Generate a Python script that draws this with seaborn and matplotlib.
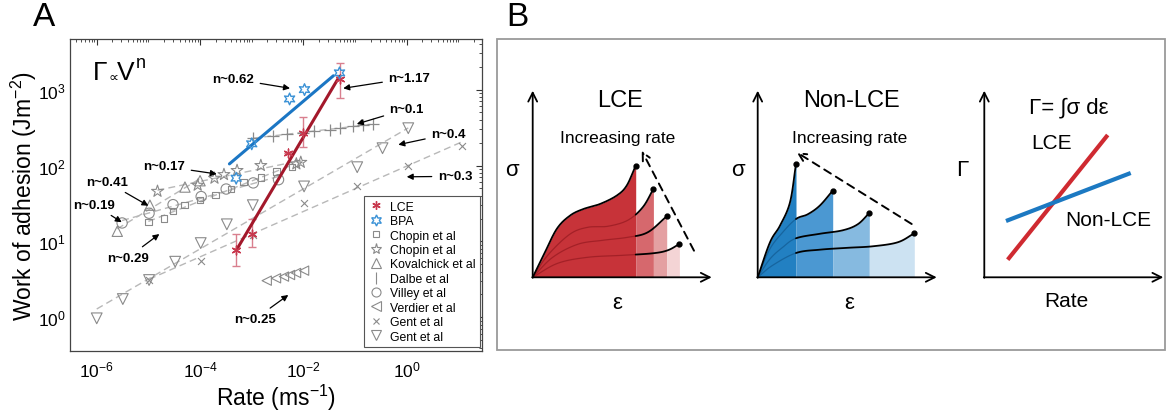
import numpy as np
import matplotlib
matplotlib.use("Agg")
import matplotlib.pyplot as plt
from matplotlib.lines import Line2D
from matplotlib.patches import Rectangle
from matplotlib.ticker import LogLocator, NullFormatter
import seaborn as sns

# ---------------- Panel A data ----------------
lce_rate = [5e-4, 1e-3, 5e-3, 1e-2, 5e-2]
lce_work = [7.6, 12.5, 145, 272, 1380]
lce_err_lo = [2.8, 4.1, 0, 98, 610]
lce_err_hi = [4.9, 7.2, 0, 158, 860]
lce_fit_rate = [5e-4, 5e-2]
lce_fit_work = [7.6, 1500]

bpa_rate = [5e-4, 1e-3, 5.4e-3, 1.05e-2, 5e-2]
bpa_work = [68, 193, 753, 1000, 1660]
bpa_fit_rate = [3.7e-4, 3.8e-2]
bpa_fit_work = [105, 1520]

chopin_sq_rate = [1e-5, 2e-5, 3e-5, 5e-5, 1e-4, 2e-4, 4e-4, 7e-4, 1.5e-3, 3e-3, 6e-3]
chopin_sq_work = [18, 20, 25, 30, 35, 41, 49, 61, 70, 83, 95]
chopin_st_rate = [1.5e-5, 9e-5, 1.9e-4, 2.9e-4, 5.2e-4, 1.5e-3, 7.3e-3, 8.9e-3]
chopin_st_work = [45.7, 55, 68, 76, 86, 100, 105, 110]
kova_rate = [2.5e-6, 1.07e-5, 5.1e-5, 1e-4]
kova_work = [13.6, 30, 52, 63]
dalbe_rate = [1.07e-3, 2.6e-3, 4.9e-3, 1e-2, 1.6e-2, 3.3e-2, 5.1e-2, 9.3e-2, 0.145, 0.22]
dalbe_work = [229, 247, 260, 272, 287, 296, 310, 330, 340, 350]
villey_rate = [3.1e-6, 1.03e-5, 3e-5, 1.05e-4, 3.2e-4, 1.07e-3, 3.3e-3]
villey_work = [17.5, 23.5, 30.5, 39, 49, 59, 65]
verdier_rate = [1.95e-3, 2.95e-3, 4.2e-3, 5.5e-3, 7.2e-3, 1.03e-2]
verdier_work = [3.04, 3.27, 3.44, 3.61, 3.84, 4.12]
gent_x_rate = [1.03e-5, 1.03e-4, 1.07e-3, 1.03e-2, 0.11, 1.07, 11.6]
gent_x_work = [3.13, 5.58, 12.2, 32, 54, 100, 180]
gent_v_rate = [1e-6, 3.2e-6, 1.03e-5, 3.3e-5, 1.03e-4, 3.3e-4, 1.05e-3, 1.03e-2, 0.11, 0.34, 1.07]
gent_v_work = [0.97, 1.74, 3.1, 5.4, 9.5, 16.8, 30, 53, 95, 169, 310]

legend_labels = ["LCE", "BPA", "Chopin et al", "Chopin et al", "Kovalchick et al",
                 "Dalbe et al", "Villey et al", "Verdier et al", "Gent et al", "Gent et al"]

# annotation: label, text (x, y), arrow tip (x, y)
ann_labels = ["n~0.62", "n~1.17", "n~0.1", "n~0.4", "n~0.3", "n~0.17",
              "n~0.41", "n~0.19", "n~0.29", "n~0.25"]
ann_text_x = [4.4e-4, 1.12, 1.0, 6.4, 8.6, 2.03e-5, 1.56e-6, 9e-7, 4e-6, 1.16e-3]
ann_text_y = [1380, 1420, 555, 260, 72, 97.6, 61, 30.5, 6.1, 0.95]
ann_tip_x = [5.5e-3, 5.9e-2, 0.108, 0.687, 1.0, 2.1e-4, 1e-5, 3.05e-6, 1.63e-5, 5.1e-3]
ann_tip_y = [1040, 1040, 352, 188, 71, 77.3, 29.5, 17.9, 12.5, 1.97]

# ---------------- Panel B schematic data (local units) ----------------
lce_curves = [
    [(0, 0), (10.7, 21.7), (24, 48.3), (37.3, 61.7), (50.7, 68.3), (67.3, 73.3), (84, 81.7), (94, 91.7), (103, 111.7)],
    [(0, 0), (15, 22), (37, 43), (55, 50), (75, 51), (95, 57), (110, 70), (120.7, 88.3)],
    [(0, 0), (20, 20), (45, 33), (70, 37), (95, 40), (115, 45), (134, 61)],
    [(0, 0), (25, 14), (55, 20), (90, 22), (120, 24), (135, 27), (146.7, 33.3)],
]
nonlce_curves = [
    [(0, 0), (12.3, 35), (22.3, 51.7), (32.3, 75), (38.3, 113.3)],
    [(0, 0), (12, 28), (25, 45), (38.3, 58.3), (50, 63), (62, 71.6), (75, 86.6)],
    [(0, 0), (12, 18), (25, 30), (38.3, 39), (62, 43.5), (85, 47), (100, 53), (111.6, 64.3)],
    [(0, 0), (15, 12), (38.3, 24.3), (62, 27.6), (90, 29.5), (115, 31), (140, 35), (156.6, 44)],
]
lce_rate_arrow = [(161.3, 26.6), (109, 126.6)]
nonlce_rate_arrow = [(154, 53.3), (39, 125)]
gamma_lce_line = [(23.4, 17.6), (123.4, 142.3)]
gamma_non_line = [(21.7, 56.3), (146.4, 104.3)]

red_fills = ["#c73339", "#d6686d", "#e4a0a2", "#f4d4d5"]
blue_fills = ["#2280c2", "#4b98d2", "#86bae0", "#cce2f2"]

# ---------------- style ----------------
sns.set_theme(style="white")
plt.rcParams["font.family"] = ["Liberation Sans", "DejaVu Sans"]
plt.rcParams["mathtext.fontset"] = "custom"
plt.rcParams["mathtext.rm"] = "Liberation Sans"
plt.rcParams["mathtext.it"] = "Liberation Sans:italic"
plt.rcParams["mathtext.bf"] = "Liberation Sans:bold"
for key in ["text.color", "axes.labelcolor", "xtick.color", "ytick.color"]:
    plt.rcParams[key] = "black"

W, H = 1167, 414
fig = plt.figure(figsize=(W / 100, H / 100), dpi=100)
fig.patch.set_facecolor("white")

GRAY = "#8a8a8a"
FITC = "#b8b8b8"
RED_M = "#c8384e"
RED_L = "#a3182b"
RED_E = "#d97f8e"
BLUE = "#3b92d6"
BLUE_L = "#1b76c4"

ax = fig.add_axes([70 / W, 1 - 352 / H, 412 / W, 312 / H])
ax.set_xscale("log")
ax.set_yscale("log")


def fitline(xs, ys):
    lx, ly = np.log10(xs), np.log10(ys)
    p = np.polyfit(lx, ly, 1)
    xe = np.array([lx.min(), lx.max()])
    return 10 ** xe, 10 ** np.polyval(p, xe)


for xs, ys in [(chopin_sq_rate, chopin_sq_work), (chopin_st_rate, chopin_st_work),
               (kova_rate, kova_work), (dalbe_rate, dalbe_work), (villey_rate, villey_work),
               (gent_x_rate, gent_x_work), (gent_v_rate, gent_v_work)]:
    fx, fy = fitline(xs, ys)
    sns.lineplot(x=fx, y=fy, ax=ax, color=FITC, lw=1.0, linestyle=(0, (5, 3)), zorder=2)

hollow = [(chopin_sq_rate, chopin_sq_work, "s", 22), (chopin_st_rate, chopin_st_work, "*", 80),
          (kova_rate, kova_work, "^", 55), (villey_rate, villey_work, "o", 55),
          (verdier_rate, verdier_work, "<", 45), (gent_v_rate, gent_v_work, "v", 60)]
for xs, ys, m, s in hollow:
    sns.scatterplot(x=xs, y=ys, ax=ax, marker=m, s=s, facecolor="none",
                    edgecolor=GRAY, linewidth=0.8, zorder=3)
sns.scatterplot(x=dalbe_rate, y=dalbe_work, ax=ax, marker="+", s=70, color=GRAY, linewidth=0.9, zorder=3)
sns.scatterplot(x=gent_x_rate, y=gent_x_work, ax=ax, marker="x", s=25, color=GRAY, linewidth=0.8, zorder=3)

# LCE and BPA
ax.errorbar(lce_rate, lce_work, yerr=[lce_err_lo, lce_err_hi], fmt="none", ecolor=RED_E,
            elinewidth=1.0, capsize=3, capthick=1.0, zorder=4)
sns.lineplot(x=lce_fit_rate, y=lce_fit_work, ax=ax, color=RED_L, lw=2.2, zorder=5)
sns.lineplot(x=bpa_fit_rate, y=bpa_fit_work, ax=ax, color=BLUE_L, lw=2.2, zorder=5)
sns.scatterplot(x=lce_rate, y=lce_work, ax=ax, marker=(6, 2, 0), s=40, color=RED_M, linewidth=1.0, zorder=6)
sns.scatterplot(x=bpa_rate, y=bpa_work, ax=ax, marker=(6, 1, 0), s=70, facecolor="none",
                edgecolor=BLUE, linewidth=1.0, zorder=6)

ax.set_xlim(3.04e-7, 28.6)
ax.set_ylim(0.36, 4640)
ax.set_xticks([1e-6, 1e-4, 1e-2, 1])
ax.set_yticks([1, 10, 100, 1000])
ax.xaxis.set_minor_locator(LogLocator(base=10, subs=np.arange(1, 10), numticks=100))
ax.yaxis.set_minor_locator(LogLocator(base=10, subs=np.arange(1, 10), numticks=100))
ax.xaxis.set_minor_formatter(NullFormatter())
ax.yaxis.set_minor_formatter(NullFormatter())
ax.tick_params(which="both", direction="in", top=True, right=True, color="#333333")
ax.tick_params(which="major", length=4, width=0.8, labelsize=12.5)
ax.tick_params(axis="y", which="major", pad=3)
ax.tick_params(axis="x", which="major", pad=6)
ax.tick_params(which="minor", length=2, width=0.6)
for sp in ax.spines.values():
    sp.set_color("#444444")
    sp.set_linewidth(0.9)
ax.set_xlabel("Rate (ms$^{-1}$)", fontsize=16.5, labelpad=2)
ax.set_ylabel("Work of adhesion (Jm$^{-2}$)", fontsize=16.5, labelpad=-1)

for lab, tx, ty, px, py in zip(ann_labels, ann_text_x, ann_text_y, ann_tip_x, ann_tip_y):
    ax.annotate(lab, xy=(px, py), xytext=(tx, ty), fontsize=9.5, fontweight="bold",
                ha="center", va="center", zorder=8,
                arrowprops=dict(arrowstyle="-|>", color="black", lw=0.9,
                                mutation_scale=9, shrinkA=2, shrinkB=0))

# Gamma ~ V^n label, composed of pieces (axes fraction)
ax.text(0.073, 0.893, "Γ", transform=ax.transAxes, fontsize=19, ha="center", va="center")
ax.text(0.105, 0.878, "∝", transform=ax.transAxes, fontsize=10, ha="center", va="center",
        family=["DejaVu Sans"])
ax.text(0.136, 0.893, "V", transform=ax.transAxes, fontsize=19, ha="center", va="center")
ax.text(0.172, 0.925, "n", transform=ax.transAxes, fontsize=13, ha="center", va="center")

handles = [
    Line2D([], [], ls="", marker=(6, 2, 0), color=RED_M, ms=6, mew=1.0),
    Line2D([], [], ls="", marker=(6, 1, 0), mfc="none", mec=BLUE, ms=8, mew=1.0),
    Line2D([], [], ls="", marker="s", mfc="none", mec=GRAY, ms=5, mew=0.8),
    Line2D([], [], ls="", marker="*", mfc="none", mec=GRAY, ms=8, mew=0.8),
    Line2D([], [], ls="", marker="^", mfc="none", mec=GRAY, ms=7, mew=0.8),
    Line2D([], [], ls="", marker="|", color=GRAY, ms=8, mew=0.8),
    Line2D([], [], ls="", marker="o", mfc="none", mec=GRAY, ms=6.5, mew=0.8),
    Line2D([], [], ls="", marker="<", mfc="none", mec=GRAY, ms=7, mew=0.8),
    Line2D([], [], ls="", marker="x", color=GRAY, ms=5, mew=0.8),
    Line2D([], [], ls="", marker="v", mfc="none", mec=GRAY, ms=7, mew=0.8),
]
leg = ax.legend(handles, legend_labels, loc="lower right", bbox_to_anchor=(0.995, 0.013),
                fontsize=8.8, labelspacing=0.2, handletextpad=0.5, borderpad=0.35,
                handlelength=1.3, frameon=True, fancybox=False, framealpha=1,
                edgecolor="#555555", borderaxespad=0)
leg.get_frame().set_linewidth(0.8)
leg.set_zorder(10)

# ---------------- Panel labels and box ----------------
fig.text(44 / W, 1 - 18 / H, "A", fontsize=24, ha="center", va="center")
fig.text(517 / W, 1 - 18 / H, "B", fontsize=24, ha="center", va="center")
fig.add_artist(Rectangle((497 / W, 1 - 351 / H), (1165 - 497) / W, (351 - 39.5) / H,
                         transform=fig.transFigure, fill=False, ec="#9a9a9a", lw=1.3))


def catmull(pts, n=24):
    P = np.array(pts, float)
    P = np.vstack([2 * P[0] - P[1], P, 2 * P[-1] - P[-2]])
    out = []
    t = np.linspace(0, 1, n, endpoint=False)[:, None]
    for i in range(1, len(P) - 2):
        p0, p1, p2, p3 = P[i - 1], P[i], P[i + 1], P[i + 2]
        out.append(0.5 * ((2 * p1) + (-p0 + p2) * t + (2 * p0 - 5 * p1 + 4 * p2 - p3) * t ** 2
                          + (-p0 + 3 * p1 - 3 * p2 + p3) * t ** 3))
    out.append(P[-2][None, :])
    return np.vstack(out)


def sub_axes(ox, oy, w=179, h=186.6):
    a = fig.add_axes([ox / W, 1 - oy / H, w / W, h / H])
    a.set_xlim(0, w)
    a.set_ylim(0, h)
    a.axis("off")
    arrow = dict(arrowstyle="->", color="black", lw=1.3, mutation_scale=16, shrinkA=0, shrinkB=0)
    a.annotate("", xy=(w, 0), xytext=(-0.5, 0), arrowprops=arrow, annotation_clip=False)
    a.annotate("", xy=(0, h), xytext=(0, -0.5), arrowprops=arrow, annotation_clip=False)
    return a


def stress_panel(a, curves, fills, inner, rate_arrow):
    sm = [catmull(c) for c in curves]
    ends = [c[-1][0] for c in curves]
    starts = [0] + ends[:-1]
    for k, (s, x0, x1) in enumerate(zip(sm, starts, ends)):
        xg = np.linspace(x0, x1, 120)
        a.fill_between(xg, 0, np.interp(xg, s[:, 0], s[:, 1]), color=fills[k], lw=0, zorder=1)
    e1 = ends[0]
    for k, s in enumerate(sm):
        if k == 0:
            a.plot(s[:, 0], s[:, 1], color="black", lw=1.3, zorder=3)
        else:
            m = s[:, 0] <= e1
            a.plot(s[m, 0], s[m, 1], color=inner, lw=0.9, alpha=0.8, zorder=2)
            xb = np.linspace(e1, s[-1, 0], 60)
            a.plot(xb, np.interp(xb, s[:, 0], s[:, 1]), color="black", lw=1.3, zorder=3)
        a.plot(s[-1, 0], s[-1, 1], "o", color="black", ms=3.5, zorder=4)
    a.annotate("", xy=rate_arrow[1], xytext=rate_arrow[0], annotation_clip=False,
               arrowprops=dict(arrowstyle="->", color="black", lw=1.4, ls=(0, (4, 3)),
                               mutation_scale=14, shrinkA=0, shrinkB=0))


a1 = sub_axes(532.7, 278.3)
stress_panel(a1, lce_curves, red_fills, "#9b1c23", lce_rate_arrow)
a1.text(-21, 108, "σ", fontsize=16, ha="center", va="center")
a1.text(87, 177, "LCE", fontsize=17, ha="center", va="center")
a1.text(85, 140, "Increasing rate", fontsize=12.5, ha="center", va="center")
a1.text(84, -25, "ε", fontsize=16, ha="center", va="center")

a2 = sub_axes(757.7, 278.3)
stress_panel(a2, nonlce_curves, blue_fills, "#145e96", nonlce_rate_arrow)
a2.text(-20, 108, "σ", fontsize=16, ha="center", va="center")
a2.text(94, 177, "Non-LCE", fontsize=17, ha="center", va="center")
a2.text(92, 140, "Increasing rate", fontsize=12.5, ha="center", va="center")
a2.text(91.6, -25, "ε", fontsize=16, ha="center", va="center")

a3 = sub_axes(984.3, 278.3)
a3.plot([p[0] for p in gamma_lce_line], [p[1] for p in gamma_lce_line], color="#cf2a31", lw=3, solid_capstyle="butt")
a3.plot([p[0] for p in gamma_non_line], [p[1] for p in gamma_non_line], color="#1c79c2", lw=3, solid_capstyle="butt")
a3.text(-21.6, 108, "Γ", fontsize=16, ha="center", va="center")
a3.text(84, 170, "Γ= ∫σ dε", fontsize=16, ha="center", va="center")
a3.text(67.4, 135, "LCE", fontsize=15, ha="center", va="center")
a3.text(123.7, 58.3, "Non-LCE", fontsize=15, ha="center", va="center")
a3.text(82.4, -23.4, "Rate", fontsize=15, ha="center", va="center")

fig.savefig("out.png", dpi=100)
